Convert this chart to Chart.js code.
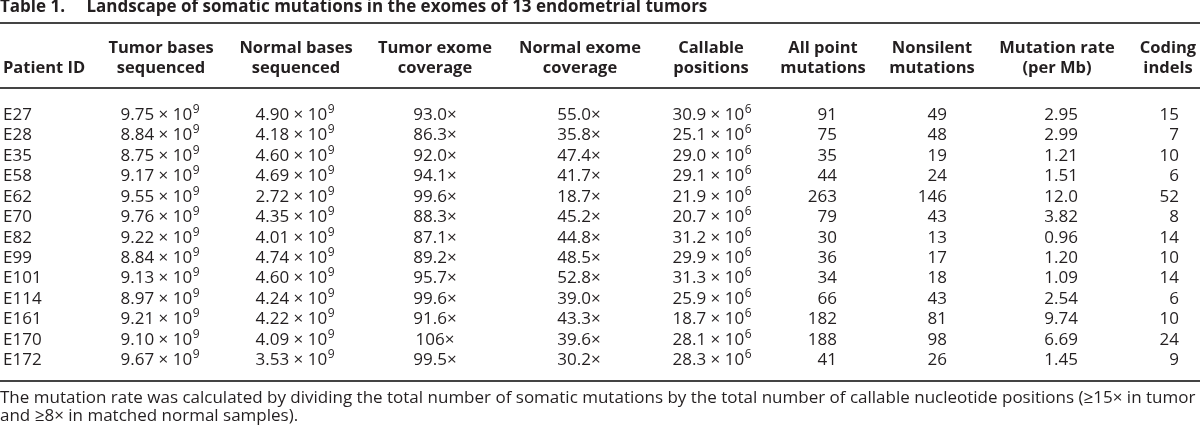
<!DOCTYPE html>
<html>
<head>
<meta charset="utf-8">
<script src="https://cdn.jsdelivr.net/npm/chart.js@4.4.0/dist/chart.umd.min.js"></script>
<style>
  html, body { margin: 0; padding: 0; background: #fff; }
  #wrap { width: 1200px; height: 436px; }
</style>
</head>
<body>
<div id="wrap"><canvas id="mutationTable"></canvas></div>
<script>
const patientIds = ['E27', 'E28', 'E35', 'E58', 'E62', 'E70', 'E82', 'E99', 'E101', 'E114', 'E161', 'E170', 'E172'];
const tumorBases = [9.75, 8.84, 8.75, 9.17, 9.55, 9.76, 9.22, 8.84, 9.13, 8.97, 9.21, 9.10, 9.67];      // x 10^9
const normalBases = [4.90, 4.18, 4.60, 4.69, 2.72, 4.35, 4.01, 4.74, 4.60, 4.24, 4.22, 4.09, 3.53];     // x 10^9
const tumorCoverage = [93.0, 86.3, 92.0, 94.1, 99.6, 88.3, 87.1, 89.2, 95.7, 99.6, 91.6, 106, 99.5];
const normalCoverage = [55.0, 35.8, 47.4, 41.7, 18.7, 45.2, 44.8, 48.5, 52.8, 39.0, 43.3, 39.6, 30.2];
const callablePositions = [30.9, 25.1, 29.0, 29.1, 21.9, 20.7, 31.2, 29.9, 31.3, 25.9, 18.7, 28.1, 28.3]; // x 10^6
const allPointMutations = [91, 75, 35, 44, 263, 79, 30, 36, 34, 66, 182, 188, 41];
const nonsilentMutations = [49, 48, 19, 24, 146, 43, 13, 17, 18, 43, 81, 98, 26];
const mutationRate = [2.95, 2.99, 1.21, 1.51, 12.0, 3.82, 0.96, 1.20, 1.09, 2.54, 9.74, 6.69, 1.45];
const codingIndels = [15, 7, 10, 6, 52, 8, 14, 10, 14, 6, 10, 24, 9];

const columnHeaders = [
  ['', 'Patient ID'],
  ['Tumor bases', 'sequenced'],
  ['Normal bases', 'sequenced'],
  ['Tumor exome', 'coverage'],
  ['Normal exome', 'coverage'],
  ['Callable', 'positions'],
  ['All point', 'mutations'],
  ['Nonsilent', 'mutations'],
  ['Mutation rate', '(per Mb)'],
  ['Coding', 'indels']
];
const tableTitle = 'Table 1.\u2003 Landscape of somatic mutations in the exomes of 13 endometrial tumors';
const footnote = [
  'The mutation rate was calculated by dividing the total number of somatic mutations by the total number of callable nucleotide positions (\u226515\u00d7 in tumor',
  'and \u22658\u00d7 in matched normal samples).'
];

// layout (x scale runs 0..1200 across the page)
const headerAnchors = [3, 161, 296, 435, 580, 711, 823, 932, 1057, 1168];
const valueAnchors = [3, 160, 295, 435, 579, 712, 837, 947, 1078, 1179];
const valueAlign = ['left', 'center', 'center', 'center', 'center', 'center', 'right', 'right', 'right', 'right'];

const TEXT_COLOR = '#231f20';
const RULE_COLOR = '#444444';
const FAMILY = '"Open Sans", Lato, sans-serif';
const BODY_SIZE = 17;
const BODY_FONT = `${BODY_SIZE}px ${FAMILY}`;
const HEAD_FONT = `bold 16.5px ${FAMILY}`;
const SUP_FONT = `12px ${FAMILY}`;

const formats = [
  v => v,
  v => [{ t: v.toFixed(2) + ' \u00d7 10' }, { t: '9', sup: true }],
  v => [{ t: v.toFixed(2) + ' \u00d7 10' }, { t: '9', sup: true }],
  v => v.toPrecision(3) + '\u00d7',
  v => v.toFixed(1) + '\u00d7',
  v => [{ t: v.toFixed(1) + ' \u00d7 10' }, { t: '6', sup: true }],
  v => String(v),
  v => String(v),
  v => (v < 10 ? v.toFixed(2) : v.toFixed(1)),
  v => String(v)
];
const columnValues = [patientIds, tumorBases, normalBases, tumorCoverage, normalCoverage,
  callablePositions, allPointMutations, nonsilentMutations, mutationRate, codingIndels];

function drawCell(ctx, content, x, baseline, align) {
  const segs = typeof content === 'string' ? [{ t: content }] : content;
  const widths = segs.map(s => {
    ctx.font = s.sup ? SUP_FONT : BODY_FONT;
    return ctx.measureText(s.t).width + (s.sup ? 0.5 : 0);
  });
  const total = widths.reduce((a, b) => a + b, 0);
  let cx = align === 'right' ? x - total : align === 'center' ? x - total / 2 : x;
  ctx.textAlign = 'left';
  segs.forEach((s, k) => {
    ctx.font = s.sup ? SUP_FONT : BODY_FONT;
    ctx.fillText(s.t, s.sup ? cx + 0.5 : cx, s.sup ? baseline - 7 : baseline);
    cx += widths[k];
  });
}

const tableTextPlugin = {
  id: 'tableText',
  afterDatasetsDraw(chart) {
    const { ctx, chartArea, scales } = chart;
    ctx.save();

    // horizontal rules
    ctx.strokeStyle = RULE_COLOR;
    ctx.lineWidth = 2;
    [chartArea.top - 81, chartArea.top - 16, chartArea.bottom + 12].forEach(yy => {
      const ry = Math.round(yy);
      ctx.beginPath();
      ctx.moveTo(0, ry);
      ctx.lineTo(chart.width, ry);
      ctx.stroke();
    });

    // column headers
    ctx.fillStyle = TEXT_COLOR;
    ctx.textBaseline = 'alphabetic';
    ctx.font = HEAD_FONT;
    columnHeaders.forEach((lines, c) => {
      const hx = scales.x.getPixelForValue(headerAnchors[c]);
      ctx.textAlign = c === 0 ? 'left' : 'center';
      lines.forEach((line, k) => ctx.fillText(line, hx, chartArea.top - 51 + k * 20));
    });

    // body cells, placed on each dataset point
    chart.data.datasets.forEach((ds, c) => {
      const meta = chart.getDatasetMeta(c);
      meta.data.forEach((pt, i) => {
        drawCell(ctx, ds.format(ds.values[i]), pt.x, pt.y + 6, ds.align);
      });
    });

    ctx.restore();
  }
};

const datasets = columnValues.map((values, c) => ({
  label: columnHeaders[c].join(' ').trim(),
  data: patientIds.map(id => ({ x: valueAnchors[c], y: id })),
  values: values,
  format: formats[c],
  align: valueAlign[c],
  pointRadius: 0,
  pointHoverRadius: 0
}));

new Chart(document.getElementById('mutationTable'), {
  type: 'scatter',
  data: { datasets },
  options: {
    animation: false,
    responsive: true,
    maintainAspectRatio: false,
    events: [],
    layout: { padding: 0 },
    plugins: {
      legend: { display: false },
      tooltip: { enabled: false },
      title: {
        display: true,
        text: tableTitle,
        align: 'start',
        color: TEXT_COLOR,
        font: { family: FAMILY, size: 17, weight: 'bold', lineHeight: 0.8 },
        padding: { top: 0.6, bottom: 89.6 }
      },
      subtitle: {
        display: true,
        position: 'bottom',
        align: 'start',
        text: footnote,
        color: TEXT_COLOR,
        font: { family: FAMILY, size: BODY_SIZE, weight: 'normal', lineHeight: 18 / BODY_SIZE },
        padding: { top: 20.4, bottom: 10.4 }
      }
    },
    scales: {
      x: { type: 'linear', min: 0, max: 1200, display: false },
      y: { type: 'category', labels: patientIds, offset: true, display: false }
    }
  },
  plugins: [tableTextPlugin]
});
</script>
</body>
</html>
